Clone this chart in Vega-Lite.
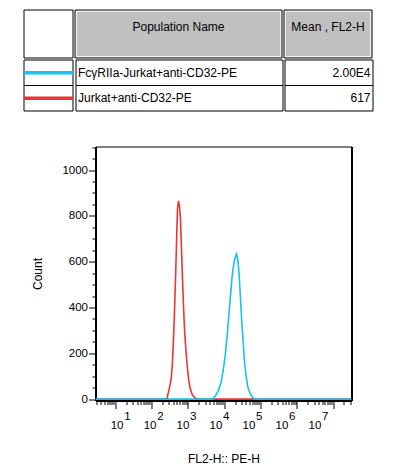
{
  "$schema": "https://vega.github.io/schema/vega-lite/v6.json",
  "background": "white",
  "padding": {"left": 22, "top": 9, "right": 5, "bottom": 5},
  "config": {
    "view": {"stroke": null},
    "font": "Liberation Sans",
    "text": {"font": "Liberation Sans", "color": "black"},
    "axis": {"labelFont": "Liberation Sans", "titleFont": "Liberation Sans", "labelColor": "black", "titleColor": "black", "tickColor": "black", "domainColor": "black", "titleFontWeight": "normal", "grid": false}
  },
  "datasets": {
    "pops": [
      {"pop": "FcγRIIa-Jurkat+anti-CD32-PE", "mean": "2.00E4"},
      {"pop": "Jurkat+anti-CD32-PE", "mean": "617"}
    ],
    "headers": [
      {"col": "swatch", "label": ""},
      {"col": "name", "label": "Population Name"},
      {"col": "mean", "label": "Mean , FL2-H"}
    ],
    "hist": [
      {"pop": "Jurkat+anti-CD32-PE", "fl2": 2.87, "count": 0},
      {"pop": "Jurkat+anti-CD32-PE", "fl2": 263.9, "count": 0},
      {"pop": "Jurkat+anti-CD32-PE", "fl2": 307.6, "count": 45},
      {"pop": "Jurkat+anti-CD32-PE", "fl2": 348.8, "count": 88},
      {"pop": "Jurkat+anti-CD32-PE", "fl2": 378.9, "count": 163},
      {"pop": "Jurkat+anti-CD32-PE", "fl2": 403.6, "count": 263},
      {"pop": "Jurkat+anti-CD32-PE", "fl2": 430, "count": 380},
      {"pop": "Jurkat+anti-CD32-PE", "fl2": 449.6, "count": 481},
      {"pop": "Jurkat+anti-CD32-PE", "fl2": 479, "count": 626},
      {"pop": "Jurkat+anti-CD32-PE", "fl2": 497.7, "count": 729},
      {"pop": "Jurkat+anti-CD32-PE", "fl2": 520.4, "count": 830},
      {"pop": "Jurkat+anti-CD32-PE", "fl2": 554.3, "count": 865},
      {"pop": "Jurkat+anti-CD32-PE", "fl2": 590.5, "count": 843},
      {"pop": "Jurkat+anti-CD32-PE", "fl2": 629.3, "count": 785},
      {"pop": "Jurkat+anti-CD32-PE", "fl2": 670.6, "count": 655},
      {"pop": "Jurkat+anti-CD32-PE", "fl2": 714.5, "count": 524},
      {"pop": "Jurkat+anti-CD32-PE", "fl2": 761.3, "count": 408},
      {"pop": "Jurkat+anti-CD32-PE", "fl2": 811, "count": 307},
      {"pop": "Jurkat+anti-CD32-PE", "fl2": 881, "count": 220},
      {"pop": "Jurkat+anti-CD32-PE", "fl2": 962.7, "count": 147},
      {"pop": "Jurkat+anti-CD32-PE", "fl2": 1045.4, "count": 89},
      {"pop": "Jurkat+anti-CD32-PE", "fl2": 1164.1, "count": 46},
      {"pop": "Jurkat+anti-CD32-PE", "fl2": 1347.6, "count": 17},
      {"pop": "Jurkat+anti-CD32-PE", "fl2": 1599.6, "count": 5},
      {"pop": "Jurkat+anti-CD32-PE", "fl2": 1850, "count": 0},
      {"pop": "Jurkat+anti-CD32-PE", "fl2": 32300000, "count": 0},
      {"pop": "FcγRIIa-Jurkat+anti-CD32-PE", "fl2": 2.87, "count": 0},
      {"pop": "FcγRIIa-Jurkat+anti-CD32-PE", "fl2": 4790, "count": 0},
      {"pop": "FcγRIIa-Jurkat+anti-CD32-PE", "fl2": 5686, "count": 14},
      {"pop": "FcγRIIa-Jurkat+anti-CD32-PE", "fl2": 7011, "count": 38},
      {"pop": "FcγRIIa-Jurkat+anti-CD32-PE", "fl2": 8320, "count": 75},
      {"pop": "FcγRIIa-Jurkat+anti-CD32-PE", "fl2": 9446, "count": 125},
      {"pop": "FcγRIIa-Jurkat+anti-CD32-PE", "fl2": 10723, "count": 191},
      {"pop": "FcγRIIa-Jurkat+anti-CD32-PE", "fl2": 12171, "count": 278},
      {"pop": "FcγRIIa-Jurkat+anti-CD32-PE", "fl2": 13476, "count": 365},
      {"pop": "FcγRIIa-Jurkat+anti-CD32-PE", "fl2": 15010, "count": 452},
      {"pop": "FcγRIIa-Jurkat+anti-CD32-PE", "fl2": 16718, "count": 539},
      {"pop": "FcγRIIa-Jurkat+anti-CD32-PE", "fl2": 18503, "count": 590},
      {"pop": "FcγRIIa-Jurkat+anti-CD32-PE", "fl2": 20226, "count": 619},
      {"pop": "FcγRIIa-Jurkat+anti-CD32-PE", "fl2": 21962, "count": 633},
      {"pop": "FcγRIIa-Jurkat+anti-CD32-PE", "fl2": 23850, "count": 611},
      {"pop": "FcγRIIa-Jurkat+anti-CD32-PE", "fl2": 26062, "count": 539},
      {"pop": "FcγRIIa-Jurkat+anti-CD32-PE", "fl2": 28301, "count": 437},
      {"pop": "FcγRIIa-Jurkat+anti-CD32-PE", "fl2": 30738, "count": 336},
      {"pop": "FcγRIIa-Jurkat+anti-CD32-PE", "fl2": 33600, "count": 249},
      {"pop": "FcγRIIa-Jurkat+anti-CD32-PE", "fl2": 36475, "count": 162},
      {"pop": "FcγRIIa-Jurkat+anti-CD32-PE", "fl2": 40626, "count": 97},
      {"pop": "FcγRIIa-Jurkat+anti-CD32-PE", "fl2": 44962, "count": 53},
      {"pop": "FcγRIIa-Jurkat+anti-CD32-PE", "fl2": 52360, "count": 24},
      {"pop": "FcγRIIa-Jurkat+anti-CD32-PE", "fl2": 60590, "count": 8},
      {"pop": "FcγRIIa-Jurkat+anti-CD32-PE", "fl2": 68800, "count": 0},
      {"pop": "FcγRIIa-Jurkat+anti-CD32-PE", "fl2": 32300000, "count": 0}
    ]
  },
  "spacing": 28.5,
  "vconcat": [
    {
      "spacing": 0,
      "vconcat": [
        {
          "spacing": 0,
          "hconcat": [
            {
              "width": 49, "height": 48,
              "data": {"name": "headers"},
              "transform": [{"filter": "datum.col === 'swatch'"}],
              "mark": {"type": "rect", "fill": "white", "stroke": "black", "strokeWidth": 1},
              "encoding": {}
            },
            {
              "width": 207, "height": 48,
              "data": {"name": "headers"},
              "transform": [{"filter": "datum.col === 'name'"}],
              "layer": [
                {"mark": {"type": "rect", "fill": "#c0c0c0", "stroke": "#eeeeee", "strokeWidth": 4, "clip": true}, "encoding": {}},
                {"mark": {"type": "rect", "fill": null, "stroke": "black", "strokeWidth": 1}, "encoding": {}},
                {"mark": {"type": "text", "fontSize": 12, "baseline": "middle", "dy": -7}, "encoding": {"text": {"field": "label"}}}
              ]
            },
            {
              "width": 88, "height": 48,
              "data": {"name": "headers"},
              "transform": [{"filter": "datum.col === 'mean'"}],
              "layer": [
                {"mark": {"type": "rect", "fill": "#c0c0c0", "stroke": "#eeeeee", "strokeWidth": 4, "clip": true}, "encoding": {}},
                {"mark": {"type": "rect", "fill": null, "stroke": "black", "strokeWidth": 1}, "encoding": {}},
                {"mark": {"type": "text", "fontSize": 12, "baseline": "middle", "dy": -7}, "encoding": {"text": {"field": "label"}}}
              ]
            }
          ]
        },
        {
          "spacing": 0,
          "hconcat": [
            {
              "width": 49, "height": 51,
              "data": {"name": "pops"},
              "encoding": {
                "y": {"field": "pop", "type": "nominal", "sort": null, "scale": {"paddingInner": 0, "paddingOuter": 0}, "axis": null}
              },
              "layer": [
                {"mark": {"type": "rect", "fill": "white", "stroke": "black", "strokeWidth": 1}},
                {"mark": {"type": "rule", "strokeWidth": 3.5}, "encoding": {
                  "y": {"field": "pop", "type": "nominal", "sort": null, "bandPosition": 0.5, "scale": {"paddingInner": 0, "paddingOuter": 0}, "axis": null},
                  "color": {"field": "pop", "type": "nominal", "scale": {"domain": ["FcγRIIa-Jurkat+anti-CD32-PE", "Jurkat+anti-CD32-PE"], "range": ["#17c1f2", "#f03232"]}, "legend": null}
                }}
              ]
            },
            {
              "width": 207, "height": 51,
              "data": {"name": "pops"},
              "encoding": {
                "y": {"field": "pop", "type": "nominal", "sort": null, "scale": {"paddingInner": 0, "paddingOuter": 0}, "axis": null}
              },
              "layer": [
                {"mark": {"type": "rect", "fill": "white", "stroke": "black", "strokeWidth": 1}},
                {"mark": {"type": "text", "fontSize": 12, "align": "left", "baseline": "middle", "dx": -101.5}, "encoding": {"text": {"field": "pop"}}}
              ]
            },
            {
              "width": 88, "height": 51,
              "data": {"name": "pops"},
              "encoding": {
                "y": {"field": "pop", "type": "nominal", "sort": null, "scale": {"paddingInner": 0, "paddingOuter": 0}, "axis": null}
              },
              "layer": [
                {"mark": {"type": "rect", "fill": "white", "stroke": "black", "strokeWidth": 1}},
                {"mark": {"type": "text", "fontSize": 12, "align": "right", "baseline": "middle", "dx": 41.5}, "encoding": {"text": {"field": "mean"}}}
              ]
            }
          ]
        }
      ]
    },
    {
      "spacing": 5.5,
      "hconcat": [
        {
          "width": 1, "height": 1,
          "data": {"name": "headers"},
          "transform": [{"filter": "datum.col === 'swatch'"}],
          "mark": {"type": "rect", "opacity": 0},
          "encoding": {}
        },
        {
          "width": 256, "height": 254,
          "view": {"stroke": "black", "strokeWidth": 1},
          "data": {"name": "hist"},
          "resolve": {"axis": {"y": "independent", "x": "independent"}},
          "layer": [
            {
              "transform": [{"filter": "datum.pop === 'Jurkat+anti-CD32-PE'"}],
              "mark": {"type": "line", "strokeWidth": 1.6, "clip": true},
              "encoding": {
                "x": {"field": "fl2", "type": "quantitative",
                  "scale": {"type": "log", "domain": [2.87, 32300000], "nice": false},
                  "axis": {
                    "orient": "bottom",
                    "title": "FL2-H:: PE-H", "titleFontSize": 12, "titleY": 61.5, "titleBaseline": "alphabetic",
                    "values": [3,4,5,6,7,8,9,10,20,30,40,50,60,70,80,90,100,200,300,400,500,600,700,800,900,1000,2000,3000,4000,5000,6000,7000,8000,9000,10000,20000,30000,40000,50000,60000,70000,80000,90000,100000,200000,300000,400000,500000,600000,700000,800000,900000,1000000,2000000,3000000,4000000,5000000,6000000,7000000,8000000,9000000,10000000,20000000,30000000],
                    "tickSize": {"condition": {"test": "abs(log(datum.value)/LN10 - round(log(datum.value)/LN10)) < 0.000001", "value": 8}, "value": 4},
                    "labelExpr": "abs(log(datum.value)/LN10 - round(log(datum.value)/LN10)) < 0.000001 ? '10' : ''",
                    "labelOffset": {"condition": [
                      {"test": "datum.value === 10", "value": -5},
                      {"test": "datum.value === 100", "value": -8.3},
                      {"test": "datum.value === 1000", "value": -11.7},
                      {"test": "datum.value === 10000", "value": -15},
                      {"test": "datum.value === 100000", "value": -18.3},
                      {"test": "datum.value === 1000000", "value": -21.7},
                      {"test": "datum.value === 10000000", "value": -25}
                    ], "value": 0},
                    "labelAlign": "left", "labelBaseline": "alphabetic", "labelPadding": 20,
                    "labelFontSize": 11.5, "labelOverlap": false, "labelFlush": false, "labelBound": false,
                    "domainWidth": 2, "tickWidth": 1
                  }
                },
                "y": {"field": "count", "type": "quantitative",
                  "scale": {"domain": [-6, 1103], "nice": false, "zero": false},
                  "axis": {
                    "title": "Count", "titleFontSize": 12, "titlePadding": 17,
                    "values": [0,50,100,150,200,250,300,350,400,450,500,550,600,650,700,750,800,850,900,950,1000,1050,1100],
                    "tickSize": {"condition": {"test": "datum.value % 200 === 0", "value": 7}, "value": 3.5},
                    "labelExpr": "datum.value % 200 === 0 ? format(datum.value, 'd') : ''",
                    "labelFontSize": 11.5, "labelPadding": 1, "labelOverlap": false, "labelFlush": false,
                    "domainWidth": 2, "tickWidth": 1
                  }
                },
                "color": {"field": "pop", "type": "nominal", "scale": {"domain": ["FcγRIIa-Jurkat+anti-CD32-PE", "Jurkat+anti-CD32-PE"], "range": ["#17c1f2", "#f03232"]}, "legend": null}
              }
            },
            {
              "transform": [{"filter": "datum.pop !== 'Jurkat+anti-CD32-PE'"}],
              "mark": {"type": "line", "strokeWidth": 1.6, "clip": true},
              "encoding": {
                "x": {"field": "fl2", "type": "quantitative",
                  "scale": {"type": "log", "domain": [2.87, 32300000], "nice": false},
                  "axis": {
                    "orient": "bottom", "title": null, "domain": false, "ticks": false, "tickSize": 0,
                    "values": [10,100,1000,10000,100000,1000000,10000000],
                    "labelExpr": "format(round(log(datum.value)/LN10), 'd')",
                    "labelOffset": {"condition": [
                      {"test": "datum.value === 10", "value": 8.5},
                      {"test": "datum.value === 100", "value": 5.2},
                      {"test": "datum.value === 1000", "value": 1.8},
                      {"test": "datum.value === 10000", "value": -1.5},
                      {"test": "datum.value === 100000", "value": -4.8},
                      {"test": "datum.value === 1000000", "value": -8.1},
                      {"test": "datum.value === 10000000", "value": -11.5}
                    ], "value": 0},
                    "labelAlign": "left", "labelBaseline": "alphabetic", "labelPadding": 18.5,
                    "labelFontSize": 11.5, "labelOverlap": false, "labelFlush": false, "labelBound": false
                  }
                },
                "y": {"field": "count", "type": "quantitative",
                  "scale": {"domain": [-6, 1103], "nice": false, "zero": false},
                  "axis": {"orient": "right", "title": null, "ticks": false, "labels": false, "domainWidth": 2}
                },
                "color": {"field": "pop", "type": "nominal", "scale": {"domain": ["FcγRIIa-Jurkat+anti-CD32-PE", "Jurkat+anti-CD32-PE"], "range": ["#17c1f2", "#f03232"]}, "legend": null}
              }
            }
          ]
        }
      ]
    }
  ]
}
